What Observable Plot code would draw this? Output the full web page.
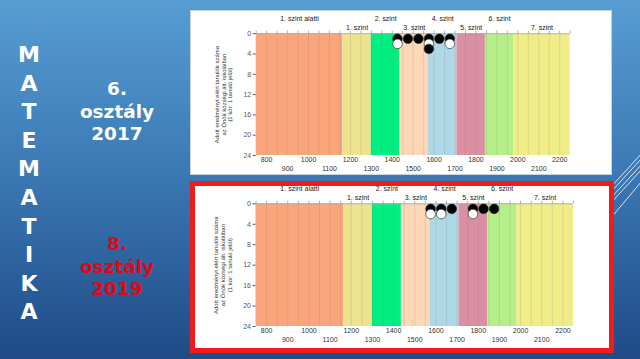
<!DOCTYPE html>
<html><head><meta charset="utf-8">
<script src="https://cdn.jsdelivr.net/npm/d3@7"></script>
<script src="https://cdn.jsdelivr.net/npm/@observablehq/plot@0.6"></script>
<style>
html,body{margin:0;padding:0;}
body{width:640px;height:359px;overflow:hidden;position:relative;
  background:linear-gradient(180deg,#569dd2 0%,#3d7bb7 45%,#1f4b86 100%);
  font-family:"DejaVu Sans",sans-serif;}
#subject{position:absolute;left:16px;top:41px;width:26px;color:#fff;font-weight:bold;
  font-size:22px;line-height:28.6px;text-align:center;}
.grade{position:absolute;left:62px;width:110px;text-align:center;font-weight:bold;
  font-size:18.5px;line-height:22.5px;}
#g6{top:78px;color:#fff;}
#g8{top:233px;color:#e30613;}
#deco{position:absolute;left:600px;top:140px;width:40px;height:90px;}
#box1{position:absolute;left:190px;top:10px;width:422px;height:165px;background:#fff;
  box-sizing:border-box;border:1px solid #c9d3dc;}
#box2{position:absolute;left:190px;top:181px;width:424px;height:172px;background:#fff;
  box-sizing:border-box;border:5px solid #ee1c1c;}
#box1 svg,#box2 svg{position:absolute;left:0;top:0;}
#box1 svg{left:-1px;top:-1px;}
</style></head>
<body>
<svg id="deco" viewBox="600 140 40 90">
  <g stroke="#ffffff" stroke-opacity="0.8" stroke-width="1">
    <line x1="642" y1="153" x2="610" y2="188"/>
    <line x1="642" y1="158" x2="610" y2="193"/>
    <line x1="642" y1="164" x2="610" y2="199"/>
    <line x1="642" y1="169" x2="610" y2="204"/>
    <line x1="642" y1="181" x2="610" y2="219"/>
  </g>
</svg>
<div id="subject">M<br>A<br>T<br>E<br>M<br>A<br>T<br>I<br>K<br>A</div>
<div class="grade" id="g6">6.<br>osztály<br>2017</div>
<div class="grade" id="g8">8.<br>osztály<br>2019</div>
<div id="box1"></div>
<div id="box2"></div>
<script>
// Levels (szintek) and their score boundaries
const levels = ["1. szint alatti","1. szint","2. szint","3. szint","4. szint","5. szint","6. szint","7. szint"];
const levelStart = [750,1164,1300,1437,1573,1709,1845,1981];
const levelEnd   = [1164,1300,1437,1573,1709,1845,1981,2250];
const levelColors = ["#fba57d","#ede38f","#00ef80","#fdd7b6","#aed8e5","#da8fa3","#b6ef8a","#f0ec88"];

// Tick labels
const xTicksUpper = [800,1000,1200,1400,1600,1800,2000,2200];
const xTicksLower = [900,1100,1300,1500,1700,1900,2100];
const yTicks = [0,4,8,12,16,20,24];
const yLabel = "Adott eredményt elért tanulók száma\naz Önök községi ált. iskoláiban\n(1 kör: 1 tanuló jelöl)";

// Students: 6. osztály 2017
const score2017 = [1425,1425,1475,1525,1575,1575,1575,1625,1675,1675];
const count2017 = [1,2,1,1,1,2,3,1,1,2];
const kind2017  = ["A","B","A","A","A","B","A","A","A","B"];

// Students: 8. osztály 2019
const score2019 = [1575,1575,1625,1625,1675,1775,1775,1825,1875];
const count2019 = [1,2,1,2,1,1,2,1,1];
const kind2019  = ["A","B","A","B","A","A","B","A","A"];

const bands = levels.map((l,i)=>({level:l, x1:levelStart[i], x2:levelEnd[i], i}));
const grid = d3.range(800, 2250, 50);
const topTicks = d3.range(750, 2251, 50);

function chart(scores, counts, kinds, dims){
  const dots = scores.map((s,i)=>({score:s, count:counts[i], kind:kinds[i]}));
  return Plot.plot({
    width: dims.width, height: dims.height,
    marginLeft: dims.ml, marginRight: dims.mr, marginTop: dims.mt, marginBottom: dims.mb,
    x: {domain:[750,2250], axis:null},
    y: {domain:[0,24], reverse:true},
    color: {domain:["A","B"], range:["#000000","#ffffff"]},
    style: {background:"transparent", fontFamily:"'Liberation Sans', Arial, sans-serif", overflow:"visible"},
    marks: [
      ...bands.map((b,i)=>Plot.rect([b], {x1:"x1", x2:"x2", y1:0, y2:24, fill: levelColors[i]})),
      Plot.ruleX(grid, {x:d=>d, y1:0, y2:24, stroke:"#777", strokeOpacity:0.18}),
      Plot.ruleY([0], {stroke:"#aaa", strokeWidth:0.8}),
      Plot.ruleX(topTicks, {x:d=>d, y1:0, y2:-0.5, stroke:"#999", strokeWidth:0.8}),
      Plot.text(bands, {x:d=>(d.x1+d.x2)/2, y:0, text:"level",
        filter:d=>d.i%2===0, fontSize:7, fill:"#222", dy:-15}),
      Plot.text(bands, {x:d=>(d.x1+d.x2)/2, y:0, text:"level",
        filter:d=>d.i%2===1, fontSize:7, fill:"#222", dy:-6}),
      Plot.axisY(yTicks, {tickSize:3, tickPadding:2, fontSize:7, color:"#555", label:null}),
      Plot.text(xTicksUpper, {x:d=>d, y:24, dy:4, text:d=>String(d), fontSize:7, fill:"#333"}),
      Plot.text(xTicksLower, {x:d=>d, y:24, dy:13, text:d=>String(d), fontSize:7, fill:"#333"}),
      Plot.text([yLabel], {frameAnchor:"left", textAnchor:"middle", dx:-33, rotate:-90, text:d=>d,
        fontSize:6, lineHeight:1.15, fill:"#333"}),
      Plot.dot(dots, {x:"score", y:"count", fill:"kind", r:4.8, stroke:"#222", strokeWidth:0.6})
    ]
  });
}

document.getElementById("box1").appendChild(
  chart(score2017, count2017, kind2017, {width:422, height:165, ml:66, mr:40.5, mt:23.3, mb:19.3}));
document.getElementById("box2").appendChild(
  chart(score2019, count2019, kind2019, {width:414, height:162, ml:60.5, mr:36, mt:17.3, mb:22}));
</script>
</body></html>
